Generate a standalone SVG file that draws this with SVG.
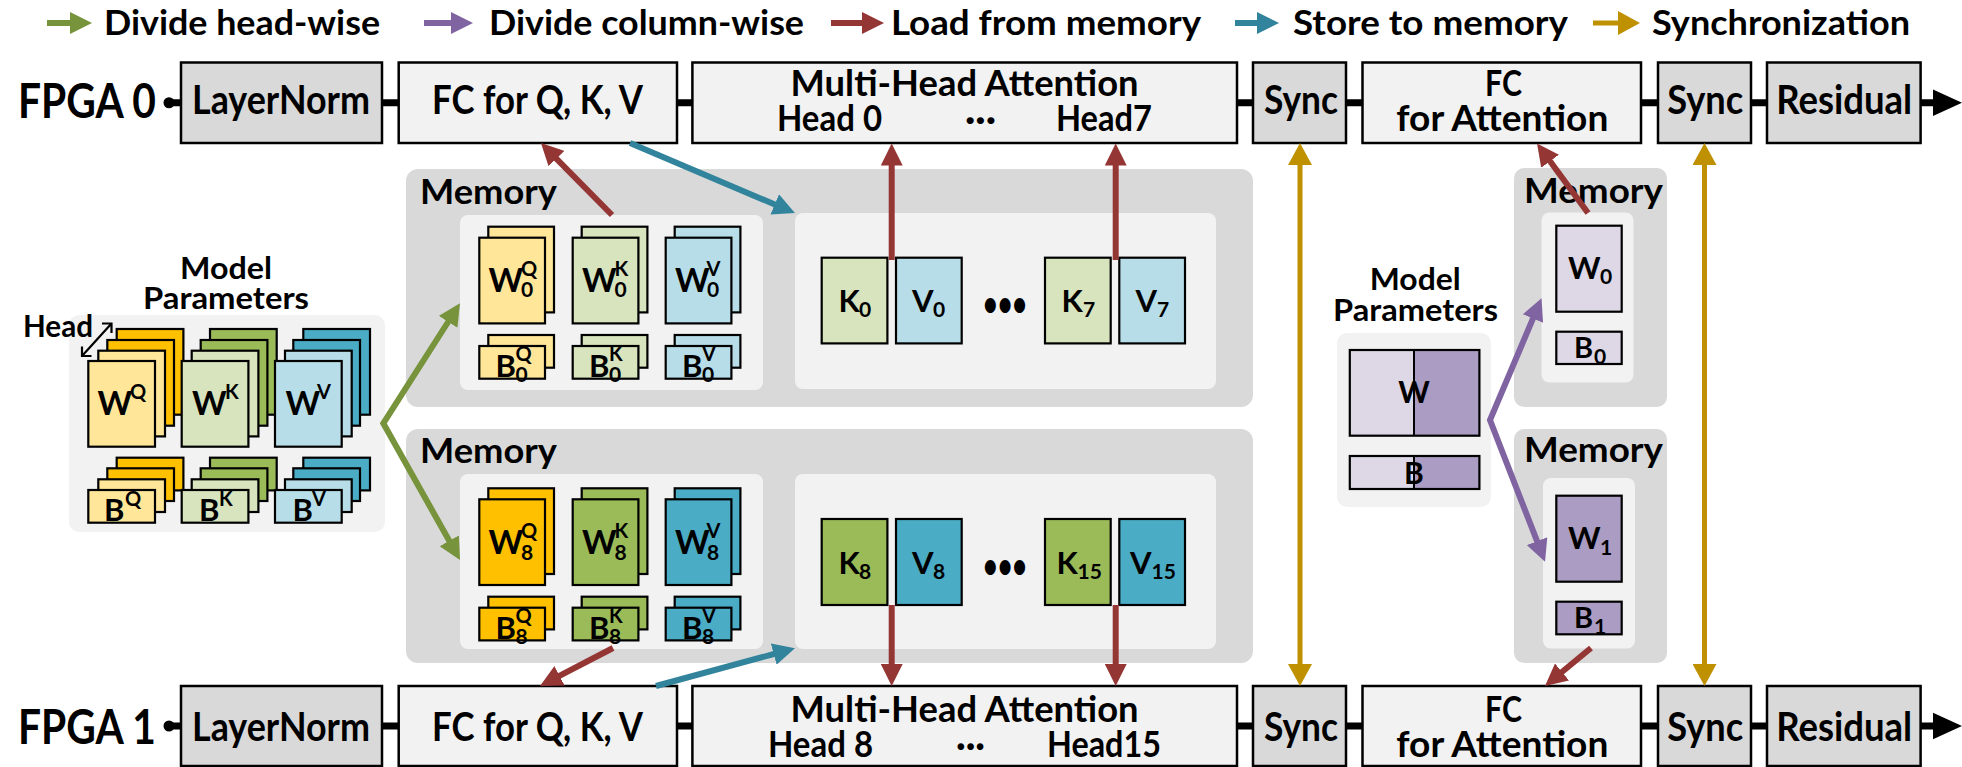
<svg xmlns="http://www.w3.org/2000/svg" width="1962" height="767" viewBox="0 0 1962 767">
<style>
.f{font-family:Lato,"Open Sans","Liberation Sans",sans-serif;font-weight:700;fill:#000}
.bd{fill:#D9D9D9;stroke:#000;stroke-width:2.5}
.bl{fill:#F2F2F2;stroke:#000;stroke-width:2.5}
.mem{fill:#D9D9D9}
.inn{fill:#F2F2F2}
.c{stroke:#000;stroke-width:2.2}
.qd{fill:#FFC000}.ql{fill:#FFE699}
.kd{fill:#9BBB59}.kl{fill:#D7E4BD}
.vd{fill:#4BACC6}.vl{fill:#B7DEE8}
.pl{fill:#DDD7E6}.pd{fill:#AA9CC2}
.row{stroke:#000;stroke-width:7;fill:none}
.red{stroke:#943634;stroke-width:6;fill:none}
.teal{stroke:#31849B;stroke-width:6;fill:none}
.grn{stroke:#77933C;stroke-width:6;fill:none;stroke-linejoin:miter}
.pur{stroke:#8064A2;stroke-width:6;fill:none;stroke-linejoin:miter}
.gold{stroke:#BF9000;stroke-width:5;fill:none}
.lg{font-size:35px}
.bx{font-size:40px}
.b2{font-size:37px}
.mm{font-size:35px}
.mp{font-size:31px}
.wb{font-size:33px}
.bb{font-size:31px}
.sp{font-size:20px}
.sb{font-size:21px}
.kv{font-size:31px}
</style>
<defs>
<marker id="mRed" markerUnits="userSpaceOnUse" markerWidth="22" markerHeight="22" refX="4" refY="11" orient="auto-start-reverse"><path d="M0,0 L22,11 L0,22 z" fill="#943634"/></marker>
<marker id="mTeal" markerUnits="userSpaceOnUse" markerWidth="22" markerHeight="22" refX="4" refY="11" orient="auto-start-reverse"><path d="M0,0 L22,11 L0,22 z" fill="#31849B"/></marker>
<marker id="mGrn" markerUnits="userSpaceOnUse" markerWidth="22" markerHeight="22" refX="4" refY="11" orient="auto-start-reverse"><path d="M0,0 L22,11 L0,22 z" fill="#77933C"/></marker>
<marker id="mPur" markerUnits="userSpaceOnUse" markerWidth="22" markerHeight="22" refX="4" refY="11" orient="auto-start-reverse"><path d="M0,0 L22,11 L0,22 z" fill="#8064A2"/></marker>
<marker id="mGold" markerUnits="userSpaceOnUse" markerWidth="24" markerHeight="24" refX="4" refY="12" orient="auto-start-reverse"><path d="M0,0 L22,12 L0,24 z" fill="#BF9000"/></marker>
</defs>
<rect width="1962" height="767" fill="#fff"/>

<g id="legend">
<path class="grn" d="M47,23 H74" marker-end="url(#mGrn)"/>
<text class="f lg" x="104" y="35" textLength="276" lengthAdjust="spacingAndGlyphs">Divide head-wise</text>
<path class="pur" d="M424,23 H455" marker-end="url(#mPur)"/>
<text class="f lg" x="489" y="35" textLength="315" lengthAdjust="spacingAndGlyphs">Divide column-wise</text>
<path class="red" d="M831,23 H866" marker-end="url(#mRed)"/>
<text class="f lg" x="891" y="35" textLength="310" lengthAdjust="spacingAndGlyphs">Load from memory</text>
<path class="teal" d="M1235,23 H1261" marker-end="url(#mTeal)"/>
<text class="f lg" x="1293" y="35" textLength="275" lengthAdjust="spacingAndGlyphs">Store to memory</text>
<path class="gold" d="M1593,23 H1622" marker-end="url(#mGold)"/>
<text class="f lg" x="1652" y="35" textLength="258" lengthAdjust="spacingAndGlyphs">Synchronization</text>
</g>

<g id="fpga0-label"><text class="f" x="18" y="118" font-size="47" textLength="138" lengthAdjust="spacingAndGlyphs">FPGA 0</text></g>
<g id="fpga0-layernorm"><rect class="bd" x="181" y="62.5" width="201" height="80.5"/><text class="f bx" x="192" y="114" textLength="178" lengthAdjust="spacingAndGlyphs">LayerNorm</text></g>
<g id="fpga0-fcqkv"><rect class="bl" x="398.7" y="62.5" width="278.3" height="80.5"/><text class="f bx" x="432" y="114" textLength="211" lengthAdjust="spacingAndGlyphs">FC for Q, K, V</text></g>
<g id="fpga0-mha"><rect class="bl" x="692.4" y="62.5" width="544.6" height="80.5"/><text class="f b2"><tspan x="790.6" y="96" textLength="348" lengthAdjust="spacingAndGlyphs">Multi-Head Attention</tspan><tspan x="777" y="131" textLength="105" lengthAdjust="spacingAndGlyphs">Head 0</tspan><tspan x="965" y="131" textLength="31" lengthAdjust="spacingAndGlyphs">···</tspan><tspan x="1056" y="131" textLength="96" lengthAdjust="spacingAndGlyphs">Head7</tspan></text></g>
<g id="fpga0-sync1"><rect class="bd" x="1253" y="62.5" width="93" height="80.5"/><text class="f bx" x="1264" y="114" textLength="74" lengthAdjust="spacingAndGlyphs">Sync</text></g>
<g id="fpga0-fcatt"><rect class="bl" x="1362.5" y="62.5" width="278.5" height="80.5"/><text class="f b2"><tspan x="1485" y="96" textLength="37" lengthAdjust="spacingAndGlyphs">FC</tspan><tspan x="1396.3" y="131" textLength="212" lengthAdjust="spacingAndGlyphs">for Attention</tspan></text></g>
<g id="fpga0-sync2"><rect class="bd" x="1658" y="62.5" width="93" height="80.5"/><text class="f bx" x="1667.3" y="114" textLength="76" lengthAdjust="spacingAndGlyphs">Sync</text></g>
<g id="fpga0-residual"><rect class="bd" x="1767" y="62.5" width="153.6" height="80.5"/><text class="f bx" x="1776.2" y="114" textLength="136" lengthAdjust="spacingAndGlyphs">Residual</text></g>

<g id="fpga1-label"><text class="f" x="18" y="744" font-size="47" textLength="138" lengthAdjust="spacingAndGlyphs">FPGA 1</text></g>
<g id="fpga1-layernorm"><rect class="bd" x="181" y="686" width="201" height="80"/><text class="f bx" x="192" y="741" textLength="178" lengthAdjust="spacingAndGlyphs">LayerNorm</text></g>
<g id="fpga1-fcqkv"><rect class="bl" x="398.7" y="686" width="278.3" height="80"/><text class="f bx" x="432" y="741" textLength="211" lengthAdjust="spacingAndGlyphs">FC for Q, K, V</text></g>
<g id="fpga1-mha"><rect class="bl" x="692.4" y="686" width="544.6" height="80"/><text class="f b2"><tspan x="790.6" y="722" textLength="348" lengthAdjust="spacingAndGlyphs">Multi-Head Attention</tspan><tspan x="768" y="757" textLength="105" lengthAdjust="spacingAndGlyphs">Head 8</tspan><tspan x="956" y="757" textLength="29" lengthAdjust="spacingAndGlyphs">···</tspan><tspan x="1047" y="757" textLength="114" lengthAdjust="spacingAndGlyphs">Head15</tspan></text></g>
<g id="fpga1-sync1"><rect class="bd" x="1253" y="686" width="93" height="80"/><text class="f bx" x="1264" y="741" textLength="74" lengthAdjust="spacingAndGlyphs">Sync</text></g>
<g id="fpga1-fcatt"><rect class="bl" x="1362.5" y="686" width="278.5" height="80"/><text class="f b2"><tspan x="1485" y="722" textLength="37" lengthAdjust="spacingAndGlyphs">FC</tspan><tspan x="1396.3" y="757" textLength="212" lengthAdjust="spacingAndGlyphs">for Attention</tspan></text></g>
<g id="fpga1-sync2"><rect class="bd" x="1658" y="686" width="93" height="80"/><text class="f bx" x="1667.3" y="741" textLength="76" lengthAdjust="spacingAndGlyphs">Sync</text></g>
<g id="fpga1-residual"><rect class="bd" x="1767" y="686" width="153.6" height="80"/><text class="f bx" x="1776.2" y="741" textLength="136" lengthAdjust="spacingAndGlyphs">Residual</text></g>

<g id="model-params-qkv">
<text class="f mp"><tspan x="180" y="279" textLength="92" lengthAdjust="spacingAndGlyphs">Model</tspan><tspan x="143" y="309" textLength="166" lengthAdjust="spacingAndGlyphs">Parameters</tspan></text>
<rect class="inn" x="69" y="315" width="316" height="217" rx="10"/>
<text class="f mp" x="23" y="337" textLength="70" lengthAdjust="spacingAndGlyphs">Head</text>
<path d="M82,356 L111.5,323.5 M102,323.5 H111.5 V333 M82,346.5 V356 H91.5" stroke="#000" stroke-width="2.2" fill="none"/>
<rect class="c qd" x="116.7" y="329" width="66.7" height="85.7"/><rect class="c qd" x="107.3" y="340" width="66.7" height="85.7"/><rect class="c ql" x="98.3" y="350.7" width="66.7" height="85.7"/><rect class="c ql" x="88.3" y="361" width="66.7" height="85.7"/>
<rect class="c kd" x="210" y="329" width="66.7" height="85.7"/><rect class="c kd" x="200.7" y="340" width="66.7" height="85.7"/><rect class="c kl" x="191.7" y="350.7" width="66.7" height="85.7"/><rect class="c kl" x="181.7" y="361" width="66.7" height="85.7"/>
<rect class="c vd" x="303.3" y="329" width="66.7" height="85.7"/><rect class="c vd" x="293.3" y="340" width="66.7" height="85.7"/><rect class="c vl" x="285" y="350.7" width="66.7" height="85.7"/><rect class="c vl" x="275" y="361" width="66.7" height="85.7"/>
<rect class="c qd" x="116.7" y="457.7" width="66.7" height="32.7"/><rect class="c qd" x="107.3" y="468.3" width="66.7" height="32.7"/><rect class="c ql" x="98.3" y="479.3" width="66.7" height="32.7"/><rect class="c ql" x="88.3" y="490" width="66.7" height="32.7"/>
<rect class="c kd" x="210" y="457.7" width="66.7" height="32.7"/><rect class="c kd" x="200.7" y="468.3" width="66.7" height="32.7"/><rect class="c kl" x="191.7" y="479.3" width="66.7" height="32.7"/><rect class="c kl" x="181.7" y="490" width="66.7" height="32.7"/>
<rect class="c vd" x="303.3" y="457.7" width="66.7" height="32.7"/><rect class="c vd" x="293.3" y="468.3" width="66.7" height="32.7"/><rect class="c vl" x="285" y="479.3" width="66.7" height="32.7"/><rect class="c vl" x="275" y="490" width="66.7" height="32.7"/>
<text class="f wb" x="97.5" y="415">W<tspan class="sp" x="130" y="399">Q</tspan></text>
<text class="f wb" x="192" y="415">W<tspan class="sp" x="225" y="399">K</tspan></text>
<text class="f wb" x="285.5" y="415">W<tspan class="sp" x="317" y="399">V</tspan></text>
<text class="f bb" x="104" y="521">B<tspan class="sp" x="125" y="506">Q</tspan></text>
<text class="f bb" x="199" y="521">B<tspan class="sp" x="219" y="506">K</tspan></text>
<text class="f bb" x="292.5" y="521">B<tspan class="sp" x="312" y="506">V</tspan></text>
</g>

<g id="memory-fpga0">
<rect class="mem" x="406" y="169" width="847" height="238" rx="12"/>
<text class="f mm" x="420" y="204" textLength="137" lengthAdjust="spacingAndGlyphs">Memory</text>
<rect class="inn" x="460" y="215" width="303" height="175" rx="8"/>
<rect class="inn" x="795" y="213" width="421" height="176" rx="8"/>
<rect class="c ql" x="488.3" y="226.7" width="65.7" height="85.7"/><rect class="c ql" x="479.3" y="237.7" width="65.7" height="85.7"/>
<rect class="c kl" x="581.7" y="226.7" width="65.7" height="85.7"/><rect class="c kl" x="572.7" y="237.7" width="65.7" height="85.7"/>
<rect class="c vl" x="674.7" y="226.7" width="65.7" height="85.7"/><rect class="c vl" x="665.7" y="237.7" width="65.7" height="85.7"/>
<rect class="c ql" x="488.3" y="335" width="65.7" height="32.7"/><rect class="c ql" x="479.3" y="346" width="65.7" height="32.7"/>
<rect class="c kl" x="581.7" y="335" width="65.7" height="32.7"/><rect class="c kl" x="572.7" y="346" width="65.7" height="32.7"/>
<rect class="c vl" x="674.7" y="335" width="65.7" height="32.7"/><rect class="c vl" x="665.7" y="346" width="65.7" height="32.7"/>
<text class="f wb" x="488.5" y="291.5">W<tspan class="sp" x="521" y="275.5">Q</tspan><tspan class="sb" x="521" y="297">0</tspan></text>
<text class="f wb" x="582" y="291.5">W<tspan class="sp" x="614.5" y="275.5">K</tspan><tspan class="sb" x="614.5" y="297">0</tspan></text>
<text class="f wb" x="675" y="291.5">W<tspan class="sp" x="706.5" y="275.5">V</tspan><tspan class="sb" x="707" y="297">0</tspan></text>
<text class="f bb" x="495.5" y="377">B<tspan class="sp" x="515.5" y="361">Q</tspan><tspan class="sb" x="515.5" y="381.5">0</tspan></text>
<text class="f bb" x="589" y="377">B<tspan class="sp" x="609" y="361">K</tspan><tspan class="sb" x="609" y="381.5">0</tspan></text>
<text class="f bb" x="682" y="377">B<tspan class="sp" x="702" y="361">V</tspan><tspan class="sb" x="702" y="381.5">0</tspan></text>
<rect class="c kl" x="821.7" y="257.7" width="65.7" height="85.7"/><rect class="c vl" x="896" y="257.7" width="65.7" height="85.7"/>
<rect class="c kl" x="1045" y="257.7" width="65.7" height="85.7"/><rect class="c vl" x="1119.3" y="257.7" width="65.7" height="85.7"/>
<text class="f kv" x="838.5" y="312">K<tspan class="sb" x="859" y="317">0</tspan></text>
<text class="f kv" x="912" y="312">V<tspan class="sb" x="933" y="317">0</tspan></text>
<text class="f" x="983" y="316" font-size="34" textLength="44" lengthAdjust="spacingAndGlyphs">•••</text>
<text class="f kv" x="1061.5" y="312">K<tspan class="sb" x="1083" y="317">7</tspan></text>
<text class="f kv" x="1135.5" y="312">V<tspan class="sb" x="1157" y="317">7</tspan></text>
</g>

<g id="memory-fpga1">
<rect class="mem" x="406" y="429" width="847" height="234" rx="12"/>
<text class="f mm" x="420" y="463" textLength="137" lengthAdjust="spacingAndGlyphs">Memory</text>
<rect class="inn" x="460" y="474" width="303" height="175" rx="8"/>
<rect class="inn" x="795" y="474" width="421" height="175" rx="8"/>
<rect class="c qd" x="488.3" y="488.3" width="65.7" height="85.7"/><rect class="c qd" x="479.3" y="499.3" width="65.7" height="85.7"/>
<rect class="c kd" x="581.7" y="488.3" width="65.7" height="85.7"/><rect class="c kd" x="572.7" y="499.3" width="65.7" height="85.7"/>
<rect class="c vd" x="674.7" y="488.3" width="65.7" height="85.7"/><rect class="c vd" x="665.7" y="499.3" width="65.7" height="85.7"/>
<rect class="c qd" x="488.3" y="596.7" width="65.7" height="32.7"/><rect class="c qd" x="479.3" y="607.7" width="65.7" height="32.7"/>
<rect class="c kd" x="581.7" y="596.7" width="65.7" height="32.7"/><rect class="c kd" x="572.7" y="607.7" width="65.7" height="32.7"/>
<rect class="c vd" x="674.7" y="596.7" width="65.7" height="32.7"/><rect class="c vd" x="665.7" y="607.7" width="65.7" height="32.7"/>
<text class="f wb" x="488.5" y="554">W<tspan class="sp" x="521" y="538">Q</tspan><tspan class="sb" x="521" y="560">8</tspan></text>
<text class="f wb" x="582" y="554">W<tspan class="sp" x="614.5" y="538">K</tspan><tspan class="sb" x="614.5" y="560">8</tspan></text>
<text class="f wb" x="675" y="554">W<tspan class="sp" x="706.5" y="538">V</tspan><tspan class="sb" x="707" y="560">8</tspan></text>
<text class="f bb" x="495.5" y="638.7">B<tspan class="sp" x="515.5" y="622.7">Q</tspan><tspan class="sb" x="515.5" y="643.5">8</tspan></text>
<text class="f bb" x="589" y="638.7">B<tspan class="sp" x="609" y="622.7">K</tspan><tspan class="sb" x="609" y="643.5">8</tspan></text>
<text class="f bb" x="682" y="638.7">B<tspan class="sp" x="702" y="622.7">V</tspan><tspan class="sb" x="702" y="643.5">8</tspan></text>
<rect class="c kd" x="821.7" y="519" width="65.7" height="86"/><rect class="c vd" x="896" y="519" width="65.7" height="86"/>
<rect class="c kd" x="1045" y="519" width="65.7" height="86"/><rect class="c vd" x="1119.3" y="519" width="65.7" height="86"/>
<text class="f kv" x="838.5" y="574">K<tspan class="sb" x="859" y="579">8</tspan></text>
<text class="f kv" x="912" y="574">V<tspan class="sb" x="933" y="579">8</tspan></text>
<text class="f" x="983" y="578" font-size="34" textLength="44" lengthAdjust="spacingAndGlyphs">•••</text>
<text class="f kv" x="1056.5" y="574">K<tspan class="sb" x="1077.5" y="579">15</tspan></text>
<text class="f kv" x="1130" y="574">V<tspan class="sb" x="1151.5" y="579">15</tspan></text>
</g>

<g id="model-params-fc">
<text class="f mp"><tspan x="1369.7" y="290" textLength="91" lengthAdjust="spacingAndGlyphs">Model</tspan><tspan x="1333" y="321" textLength="165" lengthAdjust="spacingAndGlyphs">Parameters</tspan></text>
<rect class="inn" x="1337" y="333" width="154" height="174" rx="10"/>
<rect class="pl" x="1349.8" y="350" width="64.2" height="85.7"/><rect class="pd" x="1414" y="350" width="65.4" height="85.7"/>
<rect x="1349.8" y="350" width="129.6" height="85.7" fill="none" stroke="#000" stroke-width="2.2"/><path d="M1414,350 V435.7" stroke="#000" stroke-width="2"/>
<rect class="pl" x="1349.8" y="456" width="64.2" height="33"/><rect class="pd" x="1414" y="456" width="65.4" height="33"/>
<rect x="1349.8" y="456" width="129.6" height="33" fill="none" stroke="#000" stroke-width="2.2"/><path d="M1414,456 V489" stroke="#000" stroke-width="2"/>
<text class="f" x="1414" y="402.5" font-size="30" text-anchor="middle">W</text>
<text class="f" x="1414" y="484" font-size="30" text-anchor="middle">B</text>
</g>

<g id="memory-fc-fpga0">
<rect class="mem" x="1514" y="168" width="153" height="239" rx="10"/>
<text class="f mm" x="1524" y="203" textLength="139" lengthAdjust="spacingAndGlyphs">Memory</text>
<rect class="inn" x="1541.5" y="212.5" width="92" height="170" rx="8"/>
<rect class="c pl" x="1556.3" y="225.7" width="65.4" height="86"/>
<rect class="c pl" x="1556.3" y="331.7" width="65.4" height="32.3"/>
<text class="f" x="1568" y="279" font-size="31">W<tspan class="sb" x="1600" y="284">0</tspan></text>
<text class="f" x="1574" y="358" font-size="29">B<tspan class="sb" x="1594" y="364">0</tspan></text>
</g>

<g id="memory-fc-fpga1">
<rect class="mem" x="1514" y="429" width="153" height="234" rx="10"/>
<text class="f mm" x="1524" y="462" textLength="139" lengthAdjust="spacingAndGlyphs">Memory</text>
<rect class="inn" x="1543" y="478" width="92" height="170.5" rx="8"/>
<rect class="c pd" x="1556.3" y="495.7" width="65.4" height="86"/>
<rect class="c pd" x="1556.3" y="601.7" width="65.4" height="32.6"/>
<text class="f" x="1568" y="549.3" font-size="31">W<tspan class="sb" x="1600" y="555">1</tspan></text>
<text class="f" x="1574" y="627.5" font-size="29">B<tspan class="sb" x="1594" y="634">1</tspan></text>
</g>

<g id="connectors">
<circle cx="169" cy="102.75" r="5.5"/>
<path class="row" d="M169,102.75 H181 M382,102.75 H398.7 M677,102.75 H692.4 M1237,102.75 H1253 M1346,102.75 H1362.5 M1641,102.75 H1658 M1751,102.75 H1767 M1920.6,102.75 H1935"/>
<polygon points="1933,89.5 1962,102.75 1933,116"/>
<circle cx="169" cy="726" r="5.5"/>
<path class="row" d="M169,726 H181 M382,726 H398.7 M677,726 H692.4 M1237,726 H1253 M1346,726 H1362.5 M1641,726 H1658 M1751,726 H1767 M1920.6,726 H1935"/>
<polygon points="1933,712.75 1962,726 1933,739.25"/>
<path class="grn" d="M450.3,318.5 L383.3,423.3 L451.2,544.3" marker-start="url(#mGrn)" marker-end="url(#mGrn)"/>
<path class="pur" d="M1534.5,314.9 L1490,420 L1538.5,544.9" marker-start="url(#mPur)" marker-end="url(#mPur)"/>
<path class="red" d="M612,215 L553.6,155.8" marker-end="url(#mRed)"/>
<path class="teal" d="M630,143 L778.4,206" marker-end="url(#mTeal)"/>
<path class="red" d="M891.7,260 V161.5" marker-end="url(#mRed)"/>
<path class="red" d="M1115.7,260 V161.5" marker-end="url(#mRed)"/>
<path class="red" d="M891.7,605 V668" marker-end="url(#mRed)"/>
<path class="red" d="M1115.7,605 V668" marker-end="url(#mRed)"/>
<path class="red" d="M613,648 L556,677.7" marker-end="url(#mRed)"/>
<path class="teal" d="M656,686 L777.6,653" marker-end="url(#mTeal)"/>
<path class="red" d="M1588,213 L1547.7,158" marker-end="url(#mRed)"/>
<path class="red" d="M1591,648 L1558.9,674.5" marker-end="url(#mRed)"/>
<path class="gold" d="M1300,161 V668" marker-start="url(#mGold)" marker-end="url(#mGold)"/>
<path class="gold" d="M1704.5,161 V668" marker-start="url(#mGold)" marker-end="url(#mGold)"/>
</g>
</svg>
